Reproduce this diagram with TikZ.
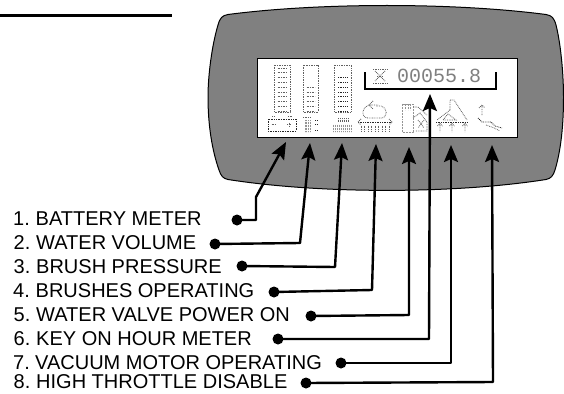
\documentclass[tikz,border=0pt]{standalone}
\usepackage{fontspec}
\setmainfont{Liberation Sans}
\newfontfamily\lcdfont{Liberation Mono}
\usetikzlibrary{arrows.meta}
\definecolor{panelgray}{gray}{0.5}
\tikzset{
  panel/.style={draw=black,line width=1pt,fill=panelgray},
  screen/.style={draw=black,line width=1pt,fill=white},
  lab/.style={inner sep=0pt,anchor=base west,font=\fontsize{20}{24}\selectfont},
  dotnode/.style={circle,fill=black,inner sep=0pt,minimum size=11pt},
  conn/.style={line width=2.4pt,line join=round,-{Stealth[length=17pt,width=14pt,inset=3pt]}},
  brk/.style={line width=2.4pt,line join=miter},
  lcd/.style={line width=.8pt,dash pattern=on .8pt off .9pt,draw=black!62},
  lcdd/.style={line width=.8pt,dash pattern=on .8pt off .9pt,draw=black!85},
  lcdl/.style={line width=.8pt,dash pattern=on .8pt off .7pt,draw=black!42},
}
\newcommand{\numlab}[2]{\makebox[22.5pt][l]{#1}#2}
\begin{document}
\begin{tikzpicture}[x=1pt,y=-1pt]
\useasboundingbox (0,0) rectangle (564,393);
% rule at top left
\draw[line width=2.4pt] (0,15.5) -- (172,15.5);
% housing
\path[panel] (228,14.5) .. controls (320,2.5) and (454,2.5) .. (546,14.5)
  .. controls (552,15.5) and (554,18) .. (556,25)
  .. controls (561,45) and (563.5,75) .. (563.5,97)
  .. controls (563.5,125) and (561,150) .. (555,170)
  .. controls (553,176) and (551,178.5) .. (546,179.5)
  .. controls (454,194) and (320,194) .. (228,179.5)
  .. controls (223,178.5) and (221,176) .. (219,170)
  .. controls (212,150) and (208,125) .. (208,97)
  .. controls (208,75) and (212,45) .. (218,25)
  .. controls (220,18) and (222,15.5) .. (228,14.5) -- cycle;
\node[screen,minimum width=260pt,minimum height=78pt,inner sep=0pt] (scr) at (387,98) {};
% bar meters
\foreach \l/\r in {274/290,303/318,334/351}{
  \draw[lcd] (\l,65) rectangle (\r,112);
}
\foreach \k in {0,...,9}{\draw[lcd] (277.5,{68+\k*4.8}) -- (287,{68+\k*4.8});}
\foreach \k in {4,...,9}{\draw[lcd] (306.5,{68+\k*4.8}) -- (315,{68+\k*4.8});}
\foreach \k in {2,...,9}{\draw[lcdd] (338,{68+\k*4.8}) -- (347.5,{68+\k*4.8});}
% battery
\draw[lcdd] (268,119) rectangle (296,131);
\draw[lcd] (272,116.5) -- (275,116.5) (288,116.5) -- (292,116.5);
\draw[lcd] (271.5,124.5) -- (276,124.5) (287,124.5) -- (292,124.5) (289.5,122.5) -- (289.5,127);
% water tank
\draw[lcd] (303,117) -- (310,117);
\foreach \x in {305,306.7,308.4,310}{\draw[lcdl] (\x,120) -- (\x,132);}
\draw[lcdd] (315,120) -- (318,120) (315,124) -- (318,124) (315,130) -- (318,130);
% brush pressure
\foreach \x in {338,340,342,344,346,348}{\draw[lcd] (\x,118) -- (\x,123);}
\foreach \x in {333,335,337,339,341,343,345,347,349,351}{\draw[lcdl] (\x,124.5) -- (\x,132);}
% brushes operating
\draw[lcd] (370,105) .. controls (362,106) and (360,118) .. (368,118) -- (381,118)
  .. controls (388,118) and (388,108) .. (381,106) -- (376,106);
\draw[lcd] (373,101) -- (369,105) -- (373,109) (369,105) -- (378,105);
\draw[lcdd] (358,122) -- (392,122);
\draw[lcd] (361,119) -- (358,122) -- (361,125) (389,119) -- (392,122) -- (389,125);
\foreach \x in {361,364.5,368,371.5,375,378.5,382,385.5,389}{\draw[lcd] (\x,125.5) -- (\x,132);}
% water valve
\draw[lcdl] (402,104) rectangle (413,132);
\foreach \x in {405,408,410.5}{\draw[lcdl] (\x,104) -- (\x,110);}
\draw[lcd] (413,107) -- (418,107) -- (427,115);
\draw[lcd] (413,118) -- (420,113) -- (427,122) -- (427,131) -- (415,131);
\draw[lcd] (418,120) -- (424,128) (424,120) -- (418,128);
% vacuum motor
\draw[lcd] (450,110) -- (450,100) -- (454,100) -- (467,120);
\draw[lcd] (450,110) -- (437,120);
\draw[lcd] (448,114) -- (443,120) -- (456,120) -- cycle;
\draw[lcdd] (436,122) -- (467,122);
\foreach \x in {440,452,465}{\draw[lcd] (\x,123.5) -- (\x,132) (\x-2.5,126) -- (\x,123.5) -- (\x+2.5,126);}
% high throttle
\draw[lcd] (482,115) -- (482,105) (479,108) -- (482,105) -- (485,108);
\draw[lcdd] (478,118) -- (482,122) -- (491,122) -- (495,126) -- (502,128);
\draw[lcd] (486,125) -- (493,127.5) -- (500,131);
% hour meter
\draw[lcd] (373,69) -- (387,69) (373,83) -- (387,83);
\draw[lcd] (375,71) -- (385,81) (385,71) -- (375,81);
\draw[lcd] (377,76) -- (383,76);
\node[inner sep=0pt,anchor=base west,text=black!50] (hours) at (397,82.5) {\lcdfont\fontsize{20}{20}\selectfont 00055.8};
\draw[brk] (365,72.5) -- (365,89) -- (496,89) -- (496,72.5);
% labels
\node[lab] (l1) at (13,225) {\numlab{1.}{BATTERY METER}};
\node[lab] (l2) at (13.5,249) {\numlab{2.}{WATER VOLUME}};
\node[lab] (l3) at (13.5,273) {\numlab{3.}{BRUSH PRESSURE}};
\node[lab] (l4) at (13,297) {\numlab{4.}{BRUSHES OPERATING}};
\node[lab] (l5) at (13.5,321) {\numlab{5.}{WATER VALVE POWER ON}};
\node[lab] (l6) at (13.5,345) {\numlab{6.}{KEY ON HOUR METER}};
\node[lab] (l7) at (13,369) {\makebox[22pt][l]{7.}VACUUM MOTOR OPERATING};
\node[lab] (l8) at (13.5,388.7) {\numlab{8.}{HIGH THROTTLE DISABLE}};
% connector start dots
\node[dotnode] (d1) at (237,220) {};
\node[dotnode] (d2) at (215,244) {};
\node[dotnode] (d3) at (242,266) {};
\node[dotnode] (d4) at (274,292) {};
\node[dotnode] (d5) at (311,316) {};
\node[dotnode] (d6) at (278,339) {};
\node[dotnode] (d7) at (341,363) {};
\node[dotnode] (d8) at (306,383) {};
% bends and tips
\coordinate (b1a) at (256,220); \coordinate (b1b) at (256,197); \coordinate (t1) at (286,142);
\coordinate (b2) at (300,243); \coordinate (t2) at (310,143);
\coordinate (b3) at (335,267); \coordinate (t3) at (342,143);
\coordinate (b4) at (372,290); \coordinate (t4) at (376,144);
\coordinate (b5) at (409,315); \coordinate (t5) at (409,147);
\coordinate (b6) at (429,339); \coordinate (t6) at (430,94);
\coordinate (b7) at (451,363); \coordinate (t7) at (451,145);
\coordinate (b8) at (493,382); \coordinate (t8) at (492,145);
\draw[conn] (d1.center) -- (b1a) -- (b1b) -- (t1);
\draw[conn] (d2.center) -- (b2) -- (t2);
\draw[conn] (d3.center) -- (b3) -- (t3);
\draw[conn] (d4.center) -- (b4) -- (t4);
\draw[conn] (d5.center) -- (b5) -- (t5);
\draw[conn] (d6.center) -- (b6) -- (t6);
\draw[conn] (d7.center) -- (b7) -- (t7);
\draw[conn] (d8.center) -- (b8) -- (t8);
\end{tikzpicture}
\end{document}
